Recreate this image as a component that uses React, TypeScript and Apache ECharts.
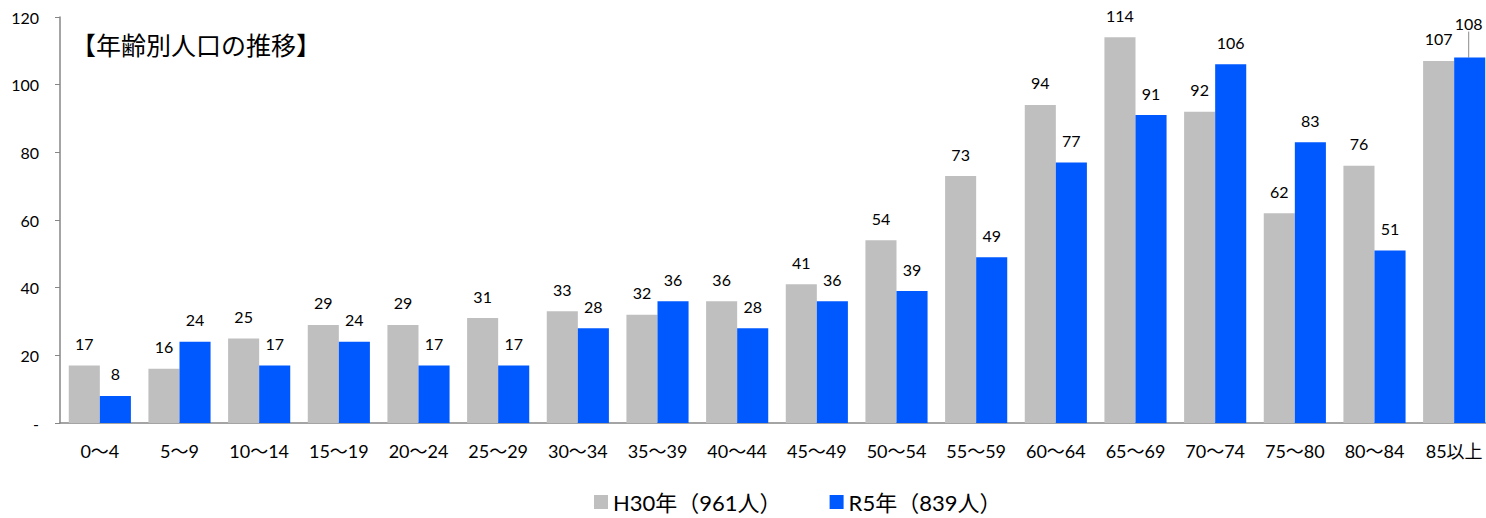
import React, { useEffect, useRef } from "react";
import * as echarts from "echarts";

const categories = ["0～4", "5～9", "10～14", "15～19", "20～24", "25～29", "30～34", "35～39", "40～44", "45～49", "50～54", "55～59", "60～64", "65～69", "70～74", "75～80", "80～84", "85以上"];
const h30Values = [17, 16, 25, 29, 29, 31, 33, 32, 36, 41, 54, 73, 94, 114, 92, 62, 76, 107];
const r5Values = [8, 24, 17, 24, 17, 17, 28, 36, 28, 36, 39, 49, 77, 91, 106, 83, 51, 108];
const seriesNames = ["H30年（961人）", "R5年（839人）"];
const yTicks = [0, 20, 40, 60, 80, 100, 120];

const FONT = "Lato, 'Noto Sans CJK JP', sans-serif";

export default function App() {
  const ref = useRef<HTMLDivElement>(null);
  useEffect(() => {
    document.body.style.margin = "0";
    document.body.style.overflow = "hidden";
    const chart = echarts.init(ref.current!, undefined, { renderer: "svg" });
    const labelBase = {
      show: true,
      position: "top",
      distance: 14,
      fontSize: 16,
      color: "#000",
      fontFamily: FONT,
    };
    chart.setOption({
      animation: false,
      textStyle: { fontFamily: FONT },
      grid: { left: 60, right: 0, top: 17, bottom: 95 },
      graphic: [
        {
          type: "text",
          left: 71,
          top: 31,
          style: { text: "【年齢別人口の推移】", fontSize: 25, fill: "#000", fontFamily: "'Noto Sans CJK JP'" },
        },
      ],
      legend: {
        bottom: 0,
        left: 589,
        itemWidth: 14,
        itemHeight: 14,
        itemGap: 48,
        icon: "rect",
        textStyle: { fontSize: 22, color: "#000", fontFamily: FONT },
        data: seriesNames,
      },
      xAxis: {
        type: "category",
        data: categories,
        axisLine: { lineStyle: { color: "#868686", width: 1.5 } },
        axisTick: { show: false },
        axisLabel: { fontSize: 18, color: "#000", margin: 19, fontFamily: FONT, interval: 0 },
      },
      yAxis: {
        type: "value",
        min: 0,
        max: 120,
        interval: 20,
        axisLine: { show: true, lineStyle: { color: "#868686", width: 1.5 } },
        axisTick: { show: true, length: 5, lineStyle: { color: "#868686" } },
        splitLine: { show: false },
        axisLabel: {
          fontSize: 16,
          color: "#000",
          margin: 21,
          fontFamily: FONT,
          formatter: (v: number) => (v === 0 ? "-" : yTicks.includes(v) ? String(v) : ""),
        },
      },
      series: [
        {
          name: seriesNames[0],
          type: "bar",
          data: h30Values,
          barGap: "0%",
          barCategoryGap: "22%",
          itemStyle: { color: "#BFBFBF" },
          label: labelBase,
        },
        {
          name: seriesNames[1],
          type: "bar",
          data: r5Values.map((v, i) =>
            i === r5Values.length - 1
              ? { value: v, labelLine: { show: true, lineStyle: { color: "#8c8c8c", width: 1 } } }
              : v
          ),
          barGap: "0%",
          barCategoryGap: "22%",
          itemStyle: { color: "#0059FF" },
          label: labelBase,
          labelLine: { show: false },
          labelLayout: (params: any) =>
            params.dataIndex === r5Values.length - 1 ? { dy: -12, dx: -1 } : {},
        },
      ],
    });
    return () => chart.dispose();
  }, []);
  return <div ref={ref} style={{ width: 1494, height: 518 }} />;
}
